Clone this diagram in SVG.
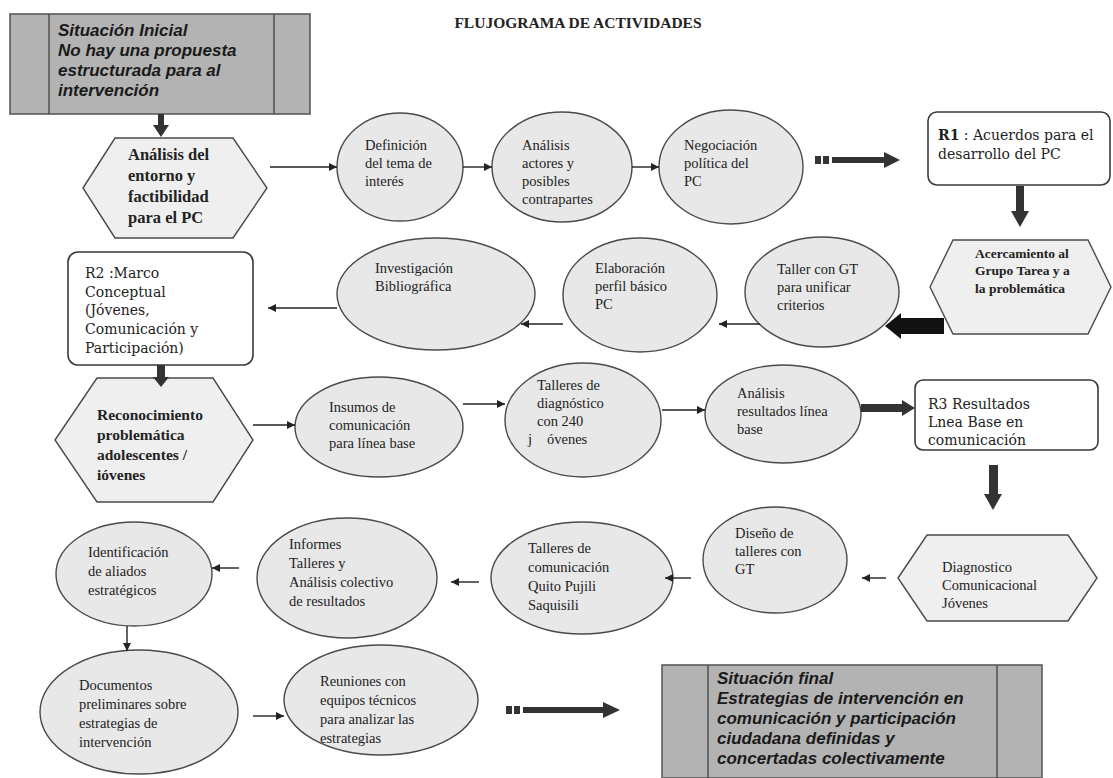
<svg xmlns="http://www.w3.org/2000/svg" width="1113" height="778" viewBox="0 0 1113 778">
<defs>
<marker id="ah" viewBox="0 0 10 10" refX="10" refY="5" markerWidth="9" markerHeight="8" markerUnits="userSpaceOnUse" orient="auto">
<path d="M0,0 L10,5 L0,10 z" fill="#222"/>
</marker>
</defs>
<style>
.bg{fill:#ffffff}
.ell{fill:#e8e8e8;stroke:#4a4a4a;stroke-width:1.4}
.hex{fill:#efefef;stroke:#4a4a4a;stroke-width:1.4}
.box{fill:#ffffff;stroke:#3a3a3a;stroke-width:1.6}
.sit{fill:#b3b3b3;stroke:#5a5a5a;stroke-width:1.6}
.sitl{stroke:#4a4a4a;stroke-width:1.4}
.t{font-family:"Liberation Serif","Times New Roman",serif;font-size:14.5px;fill:#222}
.tb{font-family:"Liberation Serif","Times New Roman",serif;font-weight:bold;fill:#222}
.tr{font-family:"DejaVu Serif","Liberation Serif",serif;font-size:14px;fill:#222}
.ts{font-family:"Liberation Sans",Arial,sans-serif;font-weight:bold;font-style:italic;font-size:17px;fill:#1a1a1a}
.ln{stroke:#222;stroke-width:1.4;fill:none;marker-end:url(#ah)}
.thk{fill:#333}
.blk{fill:#111}
</style>
<rect class="bg" x="0" y="0" width="1113" height="778"/>
<text class="tb" x="578" y="28" font-size="15.5" text-anchor="middle">FLUJOGRAMA DE ACTIVIDADES</text>

<g id="sit-inicial">
<rect class="sit" x="10" y="14" width="300" height="100"/>
<line class="sitl" x1="49" y1="14" x2="49" y2="114"/>
<line class="sitl" x1="274" y1="14" x2="274" y2="114"/>
<text class="ts"><tspan x="58" y="36">Situación  Inicial</tspan><tspan x="58" y="56">No hay una propuesta</tspan><tspan x="58" y="76">estructurada para al</tspan><tspan x="58" y="96">intervención</tspan></text>
</g>

<g id="hex-analisis">
<polygon class="hex" points="83,188 115,138 233,138 267,188 233,238 115,238"/>
<text class="tb" font-size="16.5"><tspan x="128" y="160">Análisis del</tspan><tspan x="128" y="181">entorno y</tspan><tspan x="128" y="202">factibilidad</tspan><tspan x="128" y="223">para  el PC</tspan></text>
</g>

<g id="definicion">
<ellipse class="ell" cx="400" cy="167" rx="63" ry="54"/>
<text class="t"><tspan x="365" y="150">Definición</tspan><tspan x="365" y="168">del tema de</tspan><tspan x="365" y="186">interés</tspan></text>
</g>

<g id="analisis-actores">
<ellipse class="ell" cx="562" cy="167" rx="70" ry="55"/>
<text class="t"><tspan x="522" y="150">Análisis</tspan><tspan x="522" y="168">actores  y</tspan><tspan x="522" y="186">posibles</tspan><tspan x="522" y="204">contrapartes</tspan></text>
</g>

<g id="negociacion">
<ellipse class="ell" cx="731" cy="167" rx="72" ry="57"/>
<text class="t"><tspan x="684" y="150">Negociación</tspan><tspan x="684" y="168">política del</tspan><tspan x="684" y="186">PC</tspan></text>
</g>

<g id="r1">
<rect class="box" x="928" y="112" width="182" height="73" rx="9"/>
<text class="tr"><tspan x="938" y="140"><tspan font-weight="bold">R1</tspan> : Acuerdos para el</tspan><tspan x="938" y="159">desarrollo del PC</tspan></text>
</g>

<g id="hex-acercamiento">
<polygon class="hex" points="930,287 953,240 1088,240 1111,287 1088,334 953,334"/>
<text class="tb" font-size="13.5"><tspan x="975" y="258">Acercamiento al</tspan><tspan x="975" y="275">Grupo Tarea y a</tspan><tspan x="975" y="293">la problemática</tspan></text>
</g>

<g id="taller-gt">
<ellipse class="ell" cx="822" cy="292" rx="77" ry="55"/>
<text class="t"><tspan x="777" y="274">Taller con GT</tspan><tspan x="777" y="292">para unificar</tspan><tspan x="777" y="310">criterios</tspan></text>
</g>

<g id="elaboracion">
<ellipse class="ell" cx="640" cy="295" rx="77" ry="57"/>
<text class="t"><tspan x="595" y="273">Elaboración</tspan><tspan x="595" y="291">perfil básico</tspan><tspan x="595" y="309">PC</tspan></text>
</g>

<g id="investigacion">
<ellipse class="ell" cx="436" cy="294" rx="99" ry="56"/>
<text class="t"><tspan x="375" y="273">Investigación</tspan><tspan x="375" y="291">Bibliográfica</tspan></text>
</g>

<g id="r2">
<rect class="box" x="68" y="252" width="185" height="113" rx="10"/>
<text class="tr"><tspan x="85" y="278">R2 :Marco</tspan><tspan x="85" y="297">Conceptual</tspan><tspan x="85" y="315">(Jóvenes,</tspan><tspan x="85" y="334">Comunicación y</tspan><tspan x="85" y="353">Participación)</tspan></text>
</g>

<g id="hex-reconocimiento">
<polygon class="hex" points="55,440 97,378 213,378 253,440 213,502 97,502"/>
<text class="tb" font-size="15.5"><tspan x="97" y="420">Reconocimiento</tspan><tspan x="97" y="440">problemática</tspan><tspan x="97" y="460">adolescentes /</tspan><tspan x="97" y="480">ióvenes</tspan></text>
</g>

<g id="insumos">
<ellipse class="ell" cx="379" cy="427" rx="84" ry="50"/>
<text class="t"><tspan x="329" y="412">Insumos de</tspan><tspan x="329" y="430">comunicación</tspan><tspan x="329" y="448">para línea base</tspan></text>
</g>

<g id="talleres-diag">
<ellipse class="ell" cx="583" cy="420" rx="78" ry="57"/>
<text class="t"><tspan x="537" y="390">Talleres de</tspan><tspan x="537" y="408">diagnóstico</tspan><tspan x="537" y="426">con  240</tspan><tspan x="528" y="444">j</tspan><tspan x="547" y="444">óvenes</tspan></text>
</g>

<g id="analisis-resultados">
<ellipse class="ell" cx="783" cy="414" rx="78" ry="49"/>
<text class="t"><tspan x="737" y="398">Análisis</tspan><tspan x="737" y="416">resultados línea</tspan><tspan x="737" y="434">base</tspan></text>
</g>

<g id="r3">
<rect class="box" x="915" y="380" width="183" height="70" rx="8"/>
<text class="tr"><tspan x="928" y="409">R3  Resultados</tspan><tspan x="928" y="427">Lnea Base en</tspan><tspan x="928" y="445">comunicación</tspan></text>
</g>

<g id="hex-diagnostico">
<polygon class="hex" points="898,578 927,535 1068,535 1097,578 1068,621 927,621"/>
<text class="t"><tspan x="942" y="572">Diagnostico</tspan><tspan x="942" y="590">Comunicacional</tspan><tspan x="942" y="608">Jóvenes</tspan></text>
</g>

<g id="diseno">
<ellipse class="ell" cx="775" cy="560" rx="72" ry="53"/>
<text class="t"><tspan x="735" y="538">Diseño de</tspan><tspan x="735" y="556">talleres con</tspan><tspan x="735" y="574">GT</tspan></text>
</g>

<g id="talleres-com">
<ellipse class="ell" cx="582" cy="578" rx="91" ry="56"/>
<text class="t"><tspan x="528" y="553">Talleres  de</tspan><tspan x="528" y="572">comunicación</tspan><tspan x="528" y="591">Quito Pujili</tspan><tspan x="528" y="610">Saquisili</tspan></text>
</g>

<g id="informes">
<ellipse class="ell" cx="347" cy="578" rx="90" ry="60"/>
<text class="t"><tspan x="289" y="549">Informes</tspan><tspan x="289" y="568">Talleres  y</tspan><tspan x="289" y="587">Análisis colectivo</tspan><tspan x="289" y="606">de resultados</tspan></text>
</g>

<g id="identificacion">
<ellipse class="ell" cx="134" cy="574" rx="78" ry="52"/>
<text class="t"><tspan x="88" y="557">Identificación</tspan><tspan x="88" y="576">de aliados</tspan><tspan x="88" y="595">estratégicos</tspan></text>
</g>

<g id="documentos">
<ellipse class="ell" cx="139" cy="712" rx="99" ry="62"/>
<text class="t"><tspan x="79" y="690">Documentos</tspan><tspan x="79" y="709">preliminares  sobre</tspan><tspan x="79" y="728">estrategias de</tspan><tspan x="79" y="747">intervención</tspan></text>
</g>

<g id="reuniones">
<ellipse class="ell" cx="381" cy="700" rx="97" ry="55"/>
<text class="t"><tspan x="320" y="686">Reuniones con</tspan><tspan x="320" y="705">equipos técnicos</tspan><tspan x="320" y="724">para analizar las</tspan><tspan x="320" y="743">estrategias</tspan></text>
</g>

<g id="sit-final">
<rect class="sit" x="662" y="665" width="380" height="113"/>
<line class="sitl" x1="708" y1="665" x2="708" y2="778"/>
<line class="sitl" x1="997" y1="665" x2="997" y2="778"/>
<text class="ts"><tspan x="717" y="684">Situación final</tspan><tspan x="717" y="704">Estrategias de intervención  en</tspan><tspan x="717" y="724">comunicación y participación</tspan><tspan x="717" y="744">ciudadana definidas y</tspan><tspan x="717" y="764">concertadas colectivamente</tspan></text>
</g>

<g id="connectors">
<polygon class="thk" points="158,114 164,114 164,125 169,125 161,137 153,125 158,125"/>
<line class="ln" x1="270" y1="167" x2="337" y2="167"/>
<line class="ln" x1="463" y1="167" x2="492" y2="167"/>
<line class="ln" x1="632" y1="167" x2="659" y2="167"/>
<rect class="thk" x="815" y="156" width="6" height="8"/>
<rect class="thk" x="823" y="156" width="6" height="8"/>
<rect class="thk" x="832" y="157" width="52" height="6"/>
<polygon class="thk" points="884,152 900,160 884,168"/>
<polygon class="thk" points="1016,186 1024,186 1024,211 1029,211 1020,227 1011,211 1016,211"/>
<polygon class="blk" points="944,318 901,318 901,313 885,326 901,339 901,334 944,334"/>
<line class="ln" x1="760" y1="324" x2="719" y2="324"/>
<line class="ln" x1="563" y1="324" x2="521" y2="324"/>
<line class="ln" x1="337" y1="308" x2="268" y2="308"/>
<polygon class="thk" points="157,365 165,365 165,377 169,377 161,387 153,377 157,377"/>
<line class="ln" x1="253" y1="425" x2="295" y2="425"/>
<line class="ln" x1="463" y1="404" x2="505" y2="404"/>
<line class="ln" x1="662" y1="410" x2="705" y2="410"/>
<polygon class="thk" points="861,404 902,404 902,400 915,408 902,416 902,412 861,412"/>
<polygon class="thk" points="989,465 998,465 998,494 1002,494 993,510 984,494 989,494"/>
<line class="ln" x1="886" y1="578" x2="862" y2="578"/>
<line class="ln" x1="691" y1="578" x2="665" y2="578"/>
<line class="ln" x1="479" y1="582" x2="451" y2="582"/>
<line class="ln" x1="239" y1="568" x2="212" y2="568"/>
<line class="ln" x1="127" y1="626" x2="127" y2="651"/>
<line class="ln" x1="253" y1="716" x2="284" y2="716"/>
<rect class="thk" x="506" y="706" width="6" height="8"/>
<rect class="thk" x="514" y="706" width="6" height="8"/>
<rect class="thk" x="523" y="707" width="80" height="6"/>
<polygon class="thk" points="603,702 620,710 603,718"/>
</g>
</svg>
